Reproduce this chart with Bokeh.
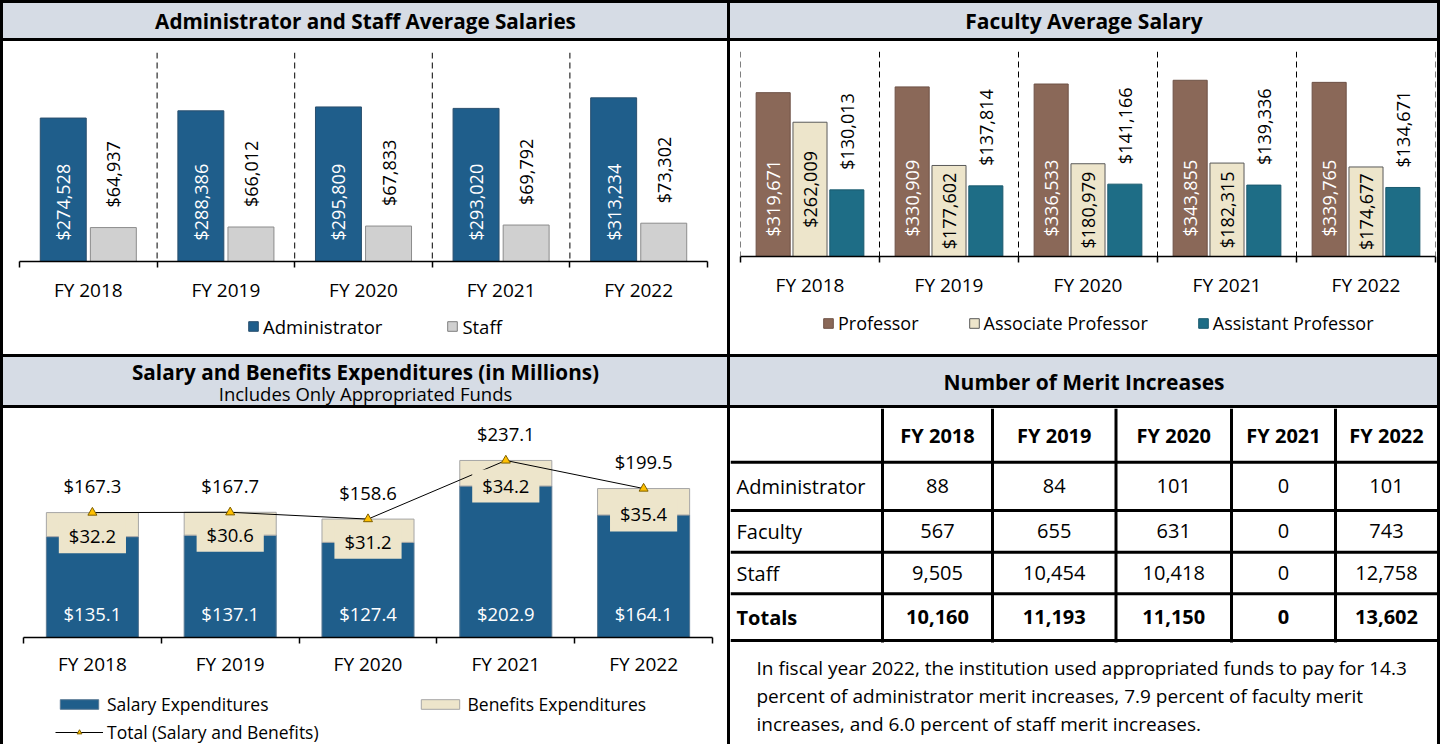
import numpy as np
from bokeh.plotting import figure
from bokeh.models import (Range1d, LinearAxis, FixedTicker, Span, Legend,
                          LegendItem, ColumnDataSource)
from bokeh.layouts import column, row
from bokeh.embed import file_html
from bokeh.resources import INLINE
from bokeh.core.properties import value

# ---------------- data ----------------
years = ["FY 2018", "FY 2019", "FY 2020", "FY 2021", "FY 2022"]
admin_salary = [274528, 288386, 295809, 293020, 313234]
staff_salary = [64937, 66012, 67833, 69792, 73302]
professor_salary = [319671, 330909, 336533, 343855, 339765]
associate_salary = [262009, 177602, 180979, 182315, 174677]
assistant_salary = [130013, 137814, 141166, 139336, 134671]
salary_exp = [135.1, 137.1, 127.4, 202.9, 164.1]
benefits_exp = [32.2, 30.6, 31.2, 34.2, 35.4]
total_exp = [167.3, 167.7, 158.6, 237.1, 199.5]
merit_rows = ["Administrator", "Faculty", "Staff", "Totals"]
merit_admin = [88, 84, 101, 0, 101]
merit_faculty = [567, 655, 631, 0, 743]
merit_staff = [9505, 10454, 10418, 0, 12758]
merit_totals = [10160, 11193, 11150, 0, 13602]
note_lines = [
    "In fiscal year 2022, the institution used appropriated funds to pay for 14.3",
    "percent of administrator merit increases, 7.9 percent of faculty merit",
    "increases, and 6.0 percent of staff merit increases.",
]
titles = ["Administrator and Staff Average Salaries", "Faculty Average Salary",
          "Salary and Benefits Expenditures (in Millions)", "Includes Only Appropriated Funds",
          "Number of Merit Increases"]

# ---------------- style ----------------
FONT = "Open Sans"
HDR = "#d6dce5"
BLUE = "#1f5e8b"
GRAY = "#d0d0d0"
BROWN = "#8a6858"
BEIGE = "#ede5cb"
TEAL = "#1e6d86"
GOLD = "#ffc000"

B = 3
LW, RW = 724, 707
TH_H, TC_H = 35, 313
BH_H, BC_H = 48, 336


def blank_fig(w, h, xr, yr, bg="white", ml=0, mr=0):
    p = figure(width=w, height=h, x_range=xr, y_range=yr, toolbar_location=None,
               output_backend="svg", x_axis_location=None, y_axis_location=None,
               min_border=0, min_border_left=ml, min_border_right=mr,
               outline_line_color=None, background_fill_color=bg,
               border_fill_color=bg, styles={"background-color": bg})
    p.grid.grid_line_color = None
    return p


def header_fig(w, h, lines):
    p = blank_fig(w, h, Range1d(0, 1), Range1d(h, 0), HDR)
    for txt, yy, size, style in lines:
        p.text(x=[0.5], y=[yy], text=[txt], text_align="center", text_baseline="middle",
               text_font=value(FONT), text_font_size=size, text_font_style=style,
               text_color="black")
    return p


def chart_fig(w, h, ml, mr, mt, mb, ymax, standoff):
    n = len(years)
    p = figure(width=w, height=h, x_range=Range1d(-0.5, n - 0.5), y_range=Range1d(0, ymax),
               toolbar_location=None, output_backend="svg", x_axis_location=None,
               y_axis_location=None, min_border_left=ml, min_border_right=mr,
               min_border_top=mt, min_border_bottom=mb, outline_line_color=None,
               background_fill_color="white", border_fill_color="white",
               styles={"background-color": "white"})
    p.grid.grid_line_color = None
    ax = LinearAxis(ticker=FixedTicker(ticks=list(range(n)),
                                       minor_ticks=[i - 0.5 for i in range(n + 1)]),
                    major_label_overrides={i: y for i, y in enumerate(years)})
    ax.major_tick_line_color = None
    ax.major_tick_out = 0
    ax.major_tick_in = 0
    ax.minor_tick_in = 0
    ax.minor_tick_out = 6
    ax.minor_tick_line_color = "black"
    ax.minor_tick_line_width = 1.5
    ax.axis_line_color = "black"
    ax.axis_line_width = 1.5
    ax.major_label_text_font = FONT
    ax.major_label_text_font_size = "19px"
    ax.major_label_text_color = "black"
    ax.major_label_standoff = standoff
    p.add_layout(ax, "below")
    return p


def legend(items, loc, gw, gh, spacing, size):
    return Legend(items=items, location=loc, orientation="horizontal", glyph_width=gw,
                  glyph_height=gh, spacing=spacing, padding=0, margin=0, label_standoff=4,
                  border_line_color=None, background_fill_alpha=0, label_text_font=FONT,
                  label_text_font_size=size, label_text_color="black", label_height=20)


def swatch_bar(p, fill, line):
    # legend-only renderer: one bar placed far outside the visible ranges
    return p.vbar(x=[-50], bottom=[-60], top=[-50], width=1, fill_color=fill, line_color=line)


def money(v):
    return f"${v:,}"


def money1(v):
    return f"${v:.1f}"


x = np.arange(len(years))

# ---------------- top-left ----------------
TL_CH = 268
tl = chart_fig(LW, TL_CH, 16, 20, 11, 48, 400000, 9)
src_tl = ColumnDataSource(dict(
    xa=x - 0.182, xs=x + 0.182, admin=admin_salary, staff=staff_salary,
    la=[money(v) for v in admin_salary], ls=[money(v) for v in staff_salary]))
for b in [0.5, 1.5, 2.5, 3.5]:
    tl.add_layout(Span(location=b, dimension="height", line_color="black",
                       line_dash="6 4", line_width=1))
tl.vbar(x="xa", top="admin", width=0.334, source=src_tl, fill_color=BLUE, line_color="#2a4f6e")
tl.vbar(x="xs", top="staff", width=0.334, source=src_tl, fill_color=GRAY, line_color="#8c8c8c")
tl.text(x="xa", y=0, text="la", angle=np.pi / 2, text_align="left", text_baseline="middle",
        y_offset=-21, text_color="white", text_font=value(FONT), text_font_size="18px",
        source=src_tl)
tl.text(x="xs", y="staff", text="ls", angle=np.pi / 2, text_align="left",
        text_baseline="middle", y_offset=-20, text_color="black", text_font=value(FONT),
        text_font_size="18px", source=src_tl)

lg_tl = blank_fig(LW, TC_H - TL_CH, Range1d(0, 1), Range1d(0, 1), ml=16, mr=20)
la1 = swatch_bar(lg_tl, BLUE, "#2a4f6e")
la2 = swatch_bar(lg_tl, GRAY, "#7f7f7f")
lg_tl.add_layout(legend([LegendItem(label="Administrator", renderers=[la1]),
                         LegendItem(label="Staff", renderers=[la2])],
                        (228, 15.5), 12, 12, 64, "18.5px"))

# ---------------- top-right ----------------
TR_CH = 263
tr = chart_fig(RW, TR_CH, 10, 2, 10, 48, 400000, 9)
src_tr = ColumnDataSource(dict(
    xp=x - 0.265, xa=x, xs=x + 0.265, prof=professor_salary, assoc=associate_salary,
    asst=assistant_salary, amid=[v / 2 for v in associate_salary],
    lp=[money(v) for v in professor_salary], la=[money(v) for v in associate_salary],
    ls=[money(v) for v in assistant_salary]))
for b in [-0.5, 0.5, 1.5, 2.5, 3.5, 4.5]:
    tr.add_layout(Span(location=b, dimension="height", line_color="black",
                       line_dash="6 4", line_width=1))
tr.vbar(x="xp", top="prof", width=0.245, source=src_tr, fill_color=BROWN, line_color="#6e5246")
tr.vbar(x="xa", top="assoc", width=0.245, source=src_tr, fill_color=BEIGE, line_color="#595959")
tr.vbar(x="xs", top="asst", width=0.245, source=src_tr, fill_color=TEAL, line_color="#1a5a6e")
tr.text(x="xp", y=0, text="lp", angle=np.pi / 2, text_align="left", text_baseline="middle",
        y_offset=-20, text_color="white", text_font=value(FONT), text_font_size="18px",
        source=src_tr)
tr.text(x="xa", y="amid", text="la", angle=np.pi / 2, text_align="center",
        text_baseline="middle", text_color="black", text_font=value(FONT),
        text_font_size="18px", source=src_tr)
tr.text(x="xs", y="asst", text="ls", angle=np.pi / 2, text_align="left",
        text_baseline="middle", y_offset=-20, text_color="black", text_font=value(FONT),
        text_font_size="18px", source=src_tr)

lg_tr = blank_fig(RW, TC_H - TR_CH, Range1d(0, 1), Range1d(0, 1), ml=10, mr=2)
lb1 = swatch_bar(lg_tr, BROWN, "#6e5246")
lb2 = swatch_bar(lg_tr, BEIGE, "#595959")
lb3 = swatch_bar(lg_tr, TEAL, "#1a5a6e")
lg_tr.add_layout(legend([LegendItem(label="Professor", renderers=[lb1]),
                         LegendItem(label="Associate Professor", renderers=[lb2]),
                         LegendItem(label="Assistant Professor", renderers=[lb3])],
                        (82, 19.5), 12, 12, 49, "18px"))

# ---------------- bottom-left ----------------
BL_CH = 277
bl = chart_fig(LW, BL_CH, 20, 15, 5, 48, 300, 7)
src_bl = ColumnDataSource(dict(
    x=x, sal=salary_exp, ben=benefits_exp, tot=total_exp,
    ls=[money1(v) for v in salary_exp], lb=[money1(v) for v in benefits_exp],
    lt=[money1(v) for v in total_exp]))
bl.vbar_stack(["sal", "ben"], x="x", width=0.668, source=src_bl,
              fill_color=[BLUE, BEIGE], line_color=["#5a7a94", "#a6a6a6"])
bl.line(x="x", y="tot", source=src_bl, line_color="black", line_width=1)
bl.scatter(x="x", y="tot", source=src_bl, marker="triangle", size=9,
           fill_color=GOLD, line_color="#7f6000")
bl.text(x="x", y=0, text="ls", text_align="center", text_baseline="middle", y_offset=-24,
        text_color="white", text_font=value(FONT), text_font_size="18.5px", source=src_bl)
bl.text(x="x", y="sal", text="lb", text_align="center", text_baseline="middle",
        text_color="black", text_font=value(FONT), text_font_size="18.5px",
        background_fill_color=BEIGE, padding=dict(left=10, right=10, top=3, bottom=5),
        source=src_bl)
bl.text(x="x", y="tot", text="lt", text_align="center", text_baseline="middle",
        y_offset=-27, text_color="black", text_font=value(FONT), text_font_size="18.5px",
        source=src_bl)

lg_bl = blank_fig(LW, BC_H - BL_CH, Range1d(0, 1), Range1d(0, 1), ml=20, mr=15)
lc1 = swatch_bar(lg_bl, BLUE, "#5a7a94")
lc2 = swatch_bar(lg_bl, BEIGE, "#a6a6a6")
lc3 = lg_bl.line(x=[-50, -49], y=[-50, -50], line_color="black", line_width=1)
lc4 = lg_bl.scatter(x=[-50], y=[-50], marker="triangle", size=9, fill_color=GOLD,
                    line_color="#7f6000")
lg_bl.add_layout(legend([LegendItem(label="Salary Expenditures", renderers=[lc1]),
                         LegendItem(label="Benefits Expenditures", renderers=[lc2])],
                        (32, 28.5), 48, 12, 147, "17.5px"))
lg_bl.add_layout(legend([LegendItem(label="Total (Salary and Benefits)",
                                    renderers=[lc3, lc4])], (32, 0), 48, 12, 10, "17.5px"))

# ---------------- bottom-right table ----------------
tb = blank_fig(RW, BC_H, Range1d(0, RW), Range1d(BC_H, 0))
col_edges = [0, 152, 262, 385.5, 501, 605, RW]
row_edges = [0, 53.7, 102, 143.7, 185.3, 232]
tb.segment(x0=[0] * 5, x1=[RW] * 5, y0=row_edges[1:], y1=row_edges[1:],
           line_color="black", line_width=3)
tb.segment(x0=col_edges[1:-1], x1=col_edges[1:-1], y0=[0] * 5,
           y1=[row_edges[-1] + 2] * 5, line_color="black", line_width=3)
ccent = [(col_edges[i] + col_edges[i + 1]) / 2 for i in range(1, 6)]
rcent = [(row_edges[i] + row_edges[i + 1]) / 2 for i in range(5)]
tb.text(x=ccent, y=[rcent[0]] * 5, text=years, text_align="center", text_baseline="middle",
        text_font=value(FONT), text_font_size="20px", text_font_style="bold",
        text_color="black")
for ri, vals in enumerate([merit_admin, merit_faculty, merit_staff, merit_totals]):
    style = "bold" if ri == 3 else "normal"
    yy = rcent[ri + 1]
    tb.text(x=[6], y=[yy], text=[merit_rows[ri]], text_align="left", text_baseline="middle",
            text_font=value(FONT), text_font_size="20px", text_font_style=style,
            text_color="black")
    tb.text(x=ccent, y=[yy] * 5, text=[f"{v:,}" for v in vals], text_align="center",
            text_baseline="middle", text_font=value(FONT), text_font_size="20px",
            text_font_style=style, text_color="black")
tb.text(x=[26] * 3, y=[259, 287, 315], text=note_lines, text_align="left",
        text_baseline="middle", text_font=value(FONT), text_font_size="19px",
        text_color="black")

# ---------------- headers & layout ----------------
h_tl = header_fig(LW, TH_H, [(titles[0], 17.5, "20.7px", "bold")])
h_tr = header_fig(RW, TH_H, [(titles[1], 17.5, "21px", "bold")])
h_bl = header_fig(LW, BH_H, [(titles[2], 14.5, "20.7px", "bold"),
                             (titles[3], 35.5, "18.5px", "normal")])
h_br = header_fig(RW, BH_H, [(titles[4], 24, "21px", "bold")])

p_tl = column(h_tl, column(tl, lg_tl, spacing=0), spacing=B)
p_tr = column(h_tr, column(tr, lg_tr, spacing=0), spacing=B)
p_bl = column(h_bl, column(bl, lg_bl, spacing=0), spacing=B)
p_br = column(h_br, tb, spacing=B)

top = row(p_tl, p_tr, spacing=B)
bottom = row(p_bl, p_br, spacing=B)
layout = column(top, bottom, spacing=B,
                styles={"background-color": "black", "padding": "3px 3px 0px 3px"})

open("out.html", "w").write(file_html(layout, INLINE))
